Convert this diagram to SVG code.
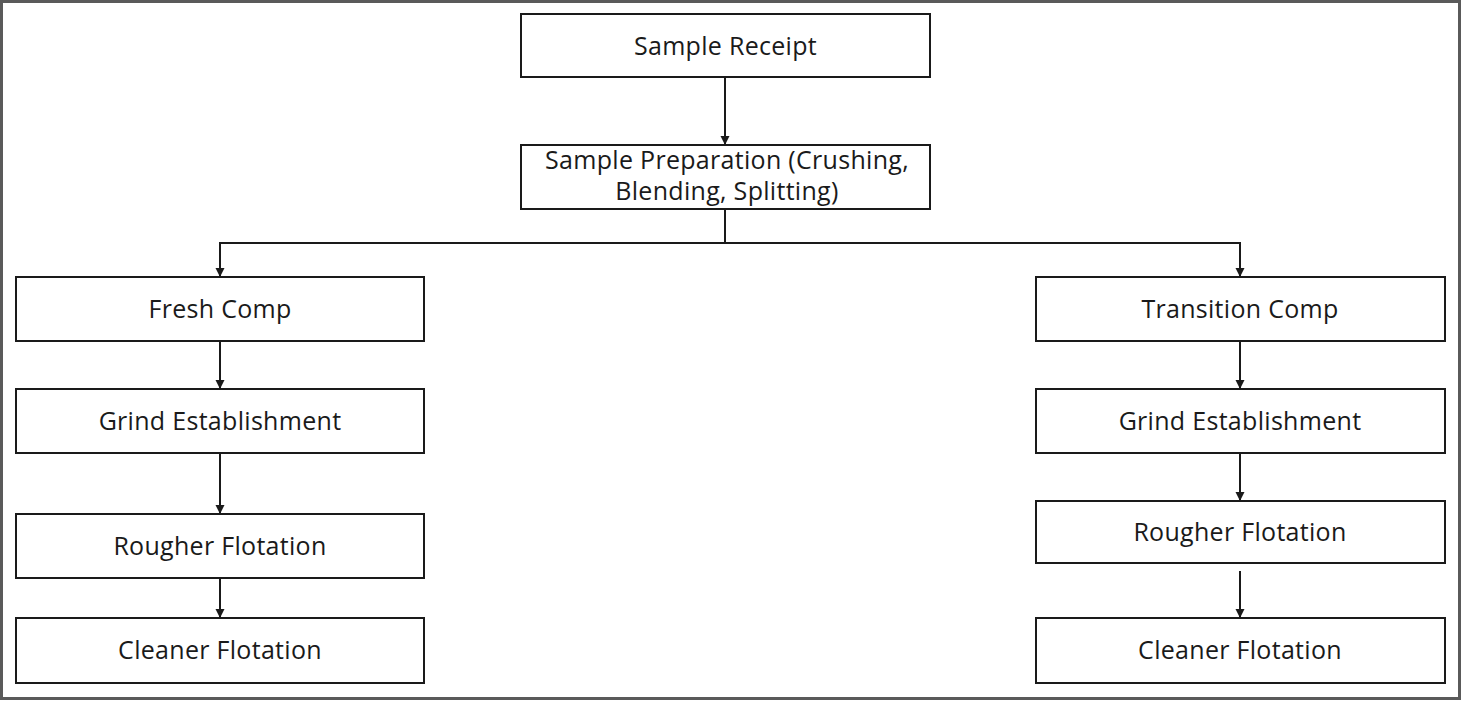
<svg xmlns="http://www.w3.org/2000/svg" width="1462" height="701" viewBox="0 0 1462 701">
<style>
.box{fill:#fff;stroke:#1a1a1a;stroke-width:2}
.lbl{font-family:"Open Sans","Liberation Sans",sans-serif;font-size:25px;letter-spacing:0.3px;fill:#1a1a1a;text-anchor:middle}
.con{fill:none;stroke:#1a1a1a;stroke-width:2}
</style>
<defs>
<marker id="ah" markerWidth="10" markerHeight="10" refX="9" refY="5" orient="auto" markerUnits="userSpaceOnUse">
<path d="M0,0.5 L9,5 L0,9.5 Z" fill="#1a1a1a"/>
</marker>
</defs>
<rect x="0" y="0" width="1462" height="701" fill="#fff"/>
<rect x="1.5" y="1.5" width="1458" height="697" fill="none" stroke="#5a5a5a" stroke-width="3"/>
<g id="connectors">
<line class="con" x1="725" y1="77" x2="725" y2="145" marker-end="url(#ah)"/>
<polyline class="con" points="725,209 725,243 220,243 220,277" marker-end="url(#ah)"/>
<polyline class="con" points="725,243 1240,243 1240,277" marker-end="url(#ah)"/>
<line class="con" x1="220" y1="341" x2="220" y2="389" marker-end="url(#ah)"/>
<line class="con" x1="220" y1="453" x2="220" y2="514" marker-end="url(#ah)"/>
<line class="con" x1="220" y1="571" x2="220" y2="618" marker-end="url(#ah)"/>
<line class="con" x1="1240" y1="341" x2="1240" y2="389" marker-end="url(#ah)"/>
<line class="con" x1="1240" y1="453" x2="1240" y2="501" marker-end="url(#ah)"/>
<line class="con" x1="1240" y1="571" x2="1240" y2="618" marker-end="url(#ah)"/>
</g>
<g id="sample-receipt"><rect class="box" x="521" y="14" width="409" height="63"/><text class="lbl" x="725.5" y="55">Sample Receipt</text></g>
<g id="sample-prep"><rect class="box" x="521" y="145" width="409" height="64"/><text class="lbl" x="727" y="169">Sample Preparation (Crushing,</text><text class="lbl" x="727" y="200">Blending, Splitting)</text></g>
<g id="fresh-comp"><rect class="box" x="16" y="277" width="408" height="64"/><text class="lbl" x="220" y="318">Fresh Comp</text></g>
<g id="grind-left"><rect class="box" x="16" y="389" width="408" height="64"/><text class="lbl" x="220" y="430">Grind Establishment</text></g>
<g id="rougher-left"><rect class="box" x="16" y="514" width="408" height="64"/><text class="lbl" x="220" y="555">Rougher Flotation</text></g>
<g id="cleaner-left"><rect class="box" x="16" y="618" width="408" height="65"/><text class="lbl" x="220" y="659">Cleaner Flotation</text></g>
<g id="transition-comp"><rect class="box" x="1036" y="277" width="409" height="64"/><text class="lbl" x="1240" y="318">Transition Comp</text></g>
<g id="grind-right"><rect class="box" x="1036" y="389" width="409" height="64"/><text class="lbl" x="1240" y="430">Grind Establishment</text></g>
<g id="rougher-right"><rect class="box" x="1036" y="501" width="409" height="62"/><text class="lbl" x="1240" y="541">Rougher Flotation</text></g>
<g id="cleaner-right"><rect class="box" x="1036" y="618" width="409" height="65"/><text class="lbl" x="1240" y="659">Cleaner Flotation</text></g>
</svg>
